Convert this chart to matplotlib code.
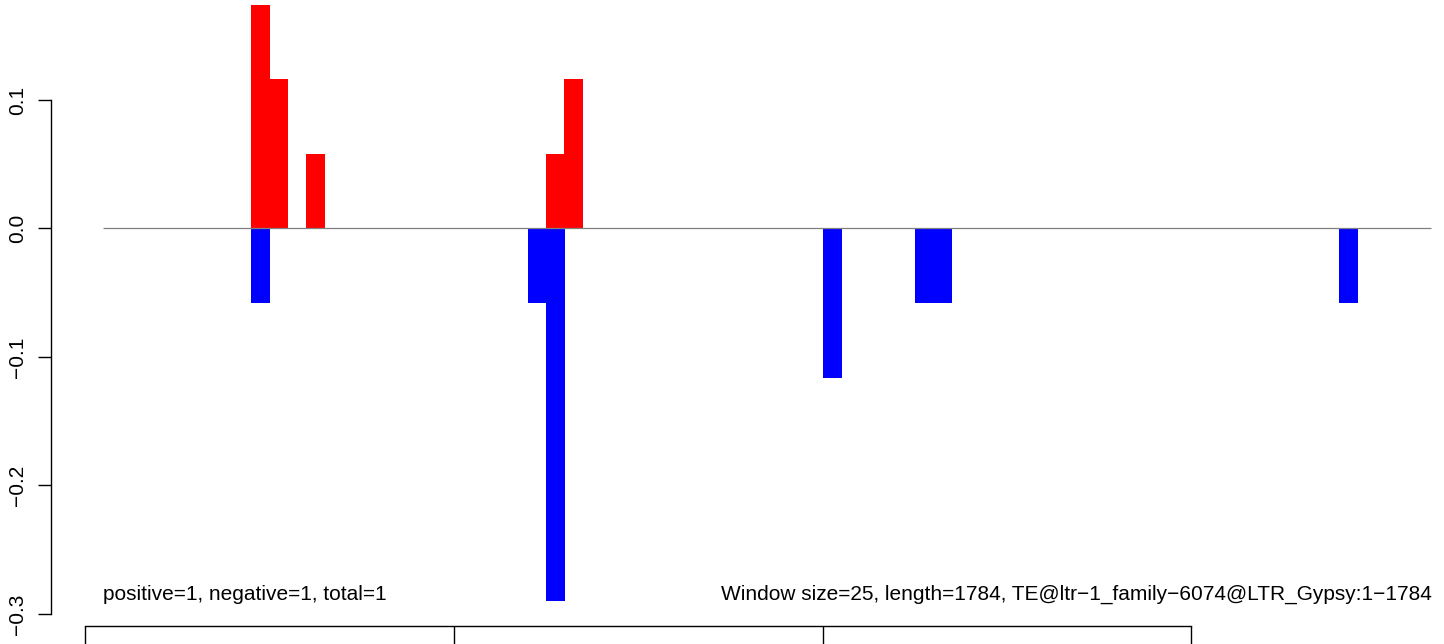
import numpy as np
import matplotlib
matplotlib.use("Agg")
import matplotlib.pyplot as plt

# window index -> value (red = positive, blue = negative)
posWindows = [9, 10, 12, 25, 26]
posValues = [0.174, 0.116, 0.058, 0.058, 0.116]
negWindows = [9, 24, 25, 40, 45, 46, 68]
negValues = [-0.058, -0.058, -0.29, -0.116, -0.058, -0.058, -0.058]

yTicks = [-0.3, -0.2, -0.1, 0.0, 0.1]
yTickLabels = ["\u22120.3", "\u22120.2", "\u22120.1", "0.0", "0.1"]
xTicks = [0, 20, 40, 60]
leftText = "positive=1, negative=1, total=1"
rightText = "Window size=25, length=1784, TE@ltr\u22121_family\u22126074@LTR_Gypsy:1\u22121784"

plt.rcParams['font.family'] = ['Liberation Sans', 'DejaVu Sans']

W, H = 1444, 644
fig = plt.figure(figsize=(W / 100, H / 100), dpi=100)
ax = fig.add_axes([51 / W, 18 / H, 1 - 51 / W, 1 - 18 / H])

pxPerWin = 18.44
x0 = 85
ax.set_xlim((51 - x0) / pxPerWin, (W - x0) / pxPerWin)
yZero = 228.5
pxPerUnit = 1285
ax.set_ylim(-(626 - yZero) / pxPerUnit, yZero / pxPerUnit)

ax.bar(posWindows, posValues, width=1.03, align='edge', color='#ff0000', linewidth=0)
ax.bar(negWindows, negValues, width=1.03, align='edge', color='#0000ff', linewidth=0)
ax.hlines(0, 1, 73, color='#808080', linewidth=0.9, zorder=3)

for s in ['top', 'right']:
    ax.spines[s].set_visible(False)
ax.spines['left'].set_bounds(-0.3, 0.1)
ax.spines['bottom'].set_bounds(0, 60)
for s in ['left', 'bottom']:
    ax.spines[s].set_linewidth(1.0)

ax.set_yticks(yTicks)
ax.set_yticklabels(yTickLabels, rotation=90, va='center', fontsize=15)
ax.tick_params(axis='y', length=9.5, width=1.0, pad=8)
ax.set_xticks(xTicks)
ax.set_xticklabels([])
ax.tick_params(axis='x', length=14, width=1.0)

ax.text(1.0, -0.285, leftText, ha='left', va='center', fontsize=15)
ax.text(73.05, -0.285, rightText, ha='right', va='center', fontsize=15)

fig.savefig("out.png", dpi=100)
